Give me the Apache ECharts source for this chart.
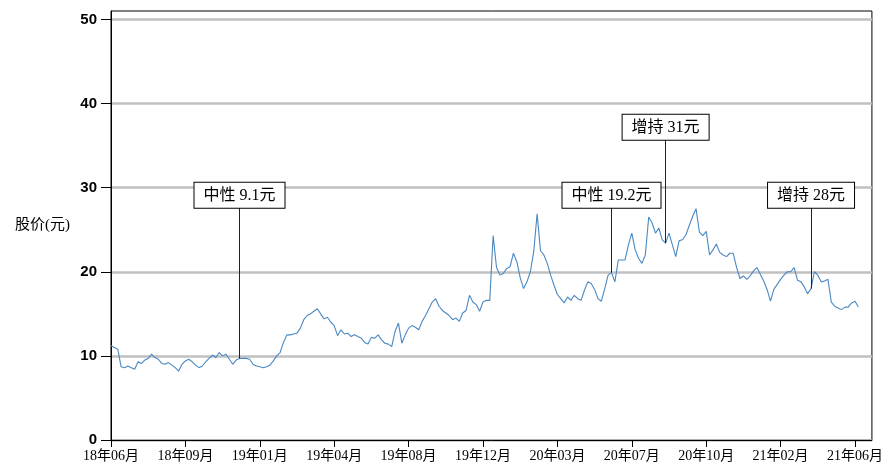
<!DOCTYPE html>
<html>
<head>
<meta charset="utf-8">
<script src="https://cdn.jsdelivr.net/npm/echarts@6/dist/echarts.min.js"></script>
<style>
html,body{margin:0;padding:0;background:#fff;}
#chart{width:886px;height:467px;}
</style>
</head>
<body>
<div id="chart"></div>
<script>
// Tick labels (one every 22 trading-day samples)
const tickLabels = ['18年06月','18年09月','19年01月','19年04月','19年08月','19年12月','20年03月','20年07月','20年10月','21年02月','21年06月'];
const tickEvery = 22;
const yTicks = [0, 10, 20, 30, 40, 50];

// Share price (元)
const prices = [
11.2,11.0,10.8,8.7,8.6,8.8,8.6,8.4,9.3,9.1,
9.5,9.7,10.2,9.8,9.6,9.1,9.0,9.2,8.9,8.6,
8.2,9.0,9.4,9.6,9.3,8.9,8.6,8.8,9.3,9.7,
10.1,9.8,10.4,10.0,10.2,9.6,9.0,9.5,9.7,9.7,
9.7,9.6,9.0,8.8,8.7,8.6,8.7,8.9,9.4,10.0,
10.4,11.6,12.5,12.5,12.6,12.7,13.3,14.3,14.8,15.0,
15.3,15.6,15.0,14.4,14.6,14.0,13.6,12.4,13.1,12.6,
12.7,12.3,12.5,12.3,12.1,11.6,11.4,12.2,12.1,12.5,
11.9,11.5,11.4,11.1,12.9,13.9,11.5,12.5,13.3,13.6,
13.4,13.1,14.1,14.8,15.6,16.4,16.8,15.9,15.4,15.1,
14.8,14.3,14.5,14.1,15.1,15.4,17.2,16.4,16.1,15.3,
16.4,16.6,16.6,24.3,20.5,19.6,19.8,20.4,20.6,22.2,
21.2,19.3,18.0,18.8,20.0,22.4,26.9,22.5,22.0,21.0,
19.6,18.4,17.3,16.8,16.3,17.0,16.6,17.2,16.8,16.6,
17.8,18.8,18.6,17.9,16.8,16.5,18.0,19.6,19.9,18.8,
21.4,21.4,21.4,23.2,24.6,22.6,21.6,21.0,22.0,26.5,
25.8,24.6,25.2,23.8,23.4,24.6,23.2,21.8,23.7,23.8,
24.4,25.5,26.6,27.5,24.7,24.3,24.8,22.0,22.6,23.3,
22.3,22.0,21.8,22.2,22.2,20.5,19.2,19.5,19.1,19.5,
20.1,20.5,19.7,18.9,17.9,16.5,17.9,18.5,19.1,19.6,
20.0,20.0,20.5,19.0,18.8,18.2,17.4,18.0,20.0,19.6,
18.8,18.9,19.1,16.4,15.9,15.7,15.5,15.8,15.8,16.3,
16.5,15.8
];

// Rating annotations
const noteIndex = [38, 148, 164, 207];
const noteText = ['中性 9.1元', '中性 19.2元', '增持 31元', '增持 28元'];
const noteTop = [27.6, 27.6, 35.7, 27.6];

const serif = '"Liberation Serif","Noto Sans CJK SC",serif';

const markData = noteIndex.map((idx, k) => [
  { coord: [idx, prices[idx]] },
  { coord: [idx, noteTop[k]], label: { formatter: noteText[k] } }
]);

const chart = echarts.init(document.getElementById('chart'), null, { renderer: 'canvas' });
chart.setOption({
  animation: false,
  backgroundColor: '#fff',
  grid: { left: 111, right: 12, top: 11, bottom: 27, show: true, borderColor: '#000', borderWidth: 1, backgroundColor: 'transparent' },
  xAxis: {
    type: 'value',
    min: 0,
    max: 225,
    axisLine: { show: true, onZero: false, lineStyle: { color: '#000', width: 1 } },
    axisTick: { show: true, length: 7, lineStyle: { color: '#000' }, customValues: tickLabels.map((_, i) => i * tickEvery) },
    axisLabel: {
      customValues: tickLabels.map((_, i) => i * tickEvery),
      formatter: v => tickLabels[Math.round(v / tickEvery)] || '',
      color: '#000', fontFamily: serif, fontSize: 14, margin: 9
    },
    splitLine: { show: false }
  },
  yAxis: {
    type: 'value',
    min: 0,
    max: 51,
    name: '股价(元)',
    nameLocation: 'middle',
    nameRotate: 0,
    nameGap: 41,
    nameTextStyle: { color: '#000', fontFamily: serif, fontSize: 15, padding: [0, 0, 14, 0] },
    axisLine: { show: true, lineStyle: { color: '#000', width: 1 } },
    axisTick: { show: true, length: 10, lineStyle: { color: '#000' }, customValues: yTicks },
    axisLabel: { customValues: yTicks, color: '#000', fontFamily: '"Liberation Sans",Arial,sans-serif', fontWeight: 'bold', fontSize: 15, margin: 14 },
    splitLine: { show: true, lineStyle: { color: '#c0c0c0', width: 2.5 } }
  },
  series: [{
    type: 'line',
    data: prices.map((v, i) => [i, v]),
    showSymbol: false,
    symbol: 'none',
    lineStyle: { color: '#4a88c2', width: 1.1 },
    z: 3,
    markLine: {
      silent: true,
      symbol: ['none', 'none'],
      lineStyle: { color: '#222', width: 1, type: 'solid' },
      label: {
        show: true,
        position: 'end',
        distance: 0,
        color: '#000',
        fontFamily: serif,
        fontSize: 16,
        backgroundColor: '#fff',
        borderColor: '#000',
        borderWidth: 1,
        padding: [5, 9, 4, 9]
      },
      emphasis: { disabled: true },
      data: markData
    }
  }]
});
</script>
</body>
</html>
